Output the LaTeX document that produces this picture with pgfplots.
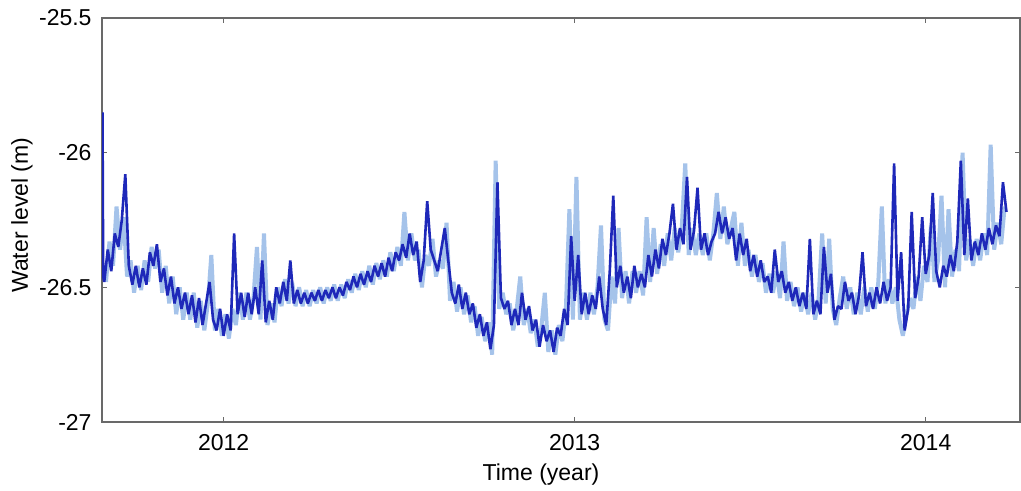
\documentclass[border=0pt]{standalone}
\usepackage{pgfplots}
\pgfplotsset{compat=1.18}
\usepackage{fontspec}
\setmainfont{Liberation Sans}
\definecolor{darkser}{RGB}{30,40,185}
\definecolor{lightser}{RGB}{165,195,234}
\definecolor{axgray}{RGB}{105,105,105}
\begin{document}
\fontsize{11.5}{13.5}\selectfont
\begin{tikzpicture}
\path[use as bounding box] (-51pt,-34.5pt) rectangle (459.5pt,211pt);
\begin{axis}[
  at={(0,0)}, anchor=south west,
  scale only axis, width=459pt, height=202pt,
  xmin=2011.6536, xmax=2014.2686,
  ymin=-27, ymax=-25.5,
  xtick={2012,2013,2014}, xticklabels={2012,2013,2014},
  ytick={-27,-26.5,-26,-25.5}, yticklabels={-27,-26.5,-26,-25.5},
  tick align=inside, major tick length=2.5pt,
  axis line style={axgray, line width=0.6pt},
  every tick/.style={axgray, line width=0.5pt},
  xticklabel style={yshift=-2pt},
  yticklabel style={xshift=-1.2pt},
  every axis x label/.style={at={(axis description cs:0.5,0)}, anchor=center, yshift=-26.5pt, xshift=-10pt},
  every axis y label/.style={at={(axis description cs:-0.0871,0.512)}, anchor=center, rotate=90},
  xlabel={Time (year)}, ylabel={Water level (m)},
  clip=true,
]
\addplot[lightser, line width=2.0pt, line join=bevel] table {
2011.665 -26.48
2011.675 -26.33
2011.685 -26.42
2011.695 -26.20
2011.705 -26.36
2011.715 -26.24
2011.725 -26.46
2011.735 -26.40
2011.745 -26.52
2011.755 -26.42
2011.765 -26.51
2011.775 -26.40
2011.785 -26.48
2011.795 -26.35
2011.805 -26.43
2011.815 -26.36
2011.825 -26.52
2011.835 -26.42
2011.845 -26.56
2011.855 -26.46
2011.865 -26.60
2011.875 -26.50
2011.885 -26.62
2011.895 -26.52
2011.905 -26.62
2011.915 -26.52
2011.925 -26.65
2011.935 -26.55
2011.945 -26.66
2011.955 -26.56
2011.965 -26.38
2011.975 -26.66
2011.985 -26.58
2011.995 -26.68
2012.005 -26.60
2012.015 -26.69
2012.025 -26.58
2012.035 -26.64
2012.045 -26.52
2012.055 -26.62
2012.065 -26.52
2012.075 -26.62
2012.085 -26.54
2012.095 -26.35
2012.105 -26.62
2012.115 -26.30
2012.125 -26.64
2012.135 -26.56
2012.145 -26.63
2012.155 -26.50
2012.165 -26.57
2012.175 -26.47
2012.185 -26.56
2012.195 -26.48
2012.205 -26.57
2012.215 -26.50
2012.225 -26.57
2012.235 -26.51
2012.245 -26.57
2012.255 -26.51
2012.265 -26.56
2012.275 -26.50
2012.285 -26.56
2012.295 -26.50
2012.305 -26.55
2012.315 -26.49
2012.325 -26.55
2012.335 -26.49
2012.345 -26.54
2012.355 -26.47
2012.365 -26.52
2012.375 -26.45
2012.385 -26.51
2012.395 -26.44
2012.405 -26.50
2012.415 -26.42
2012.425 -26.49
2012.435 -26.41
2012.445 -26.47
2012.455 -26.40
2012.465 -26.46
2012.475 -26.37
2012.485 -26.44
2012.495 -26.35
2012.505 -26.42
2012.515 -26.22
2012.525 -26.40
2012.535 -26.30
2012.545 -26.40
2012.555 -26.36
2012.565 -26.50
2012.575 -26.38
2012.585 -26.42
2012.595 -26.32
2012.605 -26.46
2012.615 -26.40
2012.625 -26.43
2012.635 -26.26
2012.645 -26.55
2012.655 -26.48
2012.665 -26.59
2012.675 -26.50
2012.685 -26.60
2012.695 -26.53
2012.705 -26.63
2012.715 -26.57
2012.725 -26.68
2012.735 -26.61
2012.745 -26.70
2012.755 -26.63
2012.765 -26.75
2012.775 -26.03
2012.785 -26.58
2012.795 -26.52
2012.805 -26.60
2012.815 -26.56
2012.825 -26.66
2012.835 -26.58
2012.845 -26.46
2012.855 -26.64
2012.865 -26.58
2012.875 -26.67
2012.885 -26.62
2012.895 -26.72
2012.905 -26.65
2012.915 -26.52
2012.925 -26.74
2012.935 -26.66
2012.945 -26.75
2012.955 -26.64
2012.965 -26.70
2012.975 -26.58
2012.985 -26.21
2012.995 -26.62
2013.005 -26.09
2013.015 -26.62
2013.025 -26.52
2013.035 -26.62
2013.045 -26.52
2013.055 -26.60
2013.065 -26.50
2013.075 -26.27
2013.085 -26.62
2013.095 -26.66
2013.105 -26.46
2013.115 -26.56
2013.125 -26.28
2013.135 -26.54
2013.145 -26.44
2013.155 -26.56
2013.165 -26.44
2013.175 -26.52
2013.185 -26.44
2013.195 -26.53
2013.205 -26.24
2013.215 -26.48
2013.225 -26.28
2013.235 -26.45
2013.245 -26.34
2013.255 -26.42
2013.265 -26.30
2013.275 -26.40
2013.285 -26.28
2013.295 -26.37
2013.305 -26.28
2013.315 -26.04
2013.325 -26.38
2013.335 -26.28
2013.345 -26.38
2013.355 -26.30
2013.365 -26.38
2013.375 -26.30
2013.385 -26.40
2013.395 -26.30
2013.405 -26.15
2013.415 -26.32
2013.425 -26.20
2013.435 -26.34
2013.445 -26.28
2013.455 -26.22
2013.465 -26.42
2013.475 -26.26
2013.485 -26.42
2013.495 -26.36
2013.505 -26.46
2013.515 -26.38
2013.525 -26.48
2013.535 -26.41
2013.545 -26.52
2013.555 -26.45
2013.565 -26.52
2013.575 -26.44
2013.585 -26.54
2013.595 -26.33
2013.605 -26.55
2013.615 -26.48
2013.625 -26.57
2013.635 -26.50
2013.645 -26.59
2013.655 -26.52
2013.665 -26.60
2013.675 -26.52
2013.685 -26.62
2013.695 -26.54
2013.705 -26.30
2013.715 -26.56
2013.725 -26.32
2013.735 -26.58
2013.745 -26.64
2013.755 -26.54
2013.765 -26.46
2013.775 -26.58
2013.785 -26.50
2013.795 -26.60
2013.805 -26.52
2013.815 -26.60
2013.825 -26.50
2013.835 -26.59
2013.845 -26.50
2013.855 -26.58
2013.865 -26.48
2013.875 -26.20
2013.885 -26.56
2013.895 -26.47
2013.905 -26.56
2013.915 -26.50
2013.925 -26.62
2013.935 -26.68
2013.945 -26.60
2013.955 -26.54
2013.965 -26.58
2013.975 -26.46
2013.985 -26.55
2013.995 -26.42
2014.005 -26.48
2014.015 -26.27
2014.025 -26.48
2014.035 -26.40
2014.045 -26.16
2014.055 -26.50
2014.065 -26.21
2014.075 -26.46
2014.085 -26.36
2014.095 -26.44
2014.105 -26.00
2014.115 -26.40
2014.125 -26.32
2014.135 -26.42
2014.145 -26.32
2014.155 -26.40
2014.165 -26.30
2014.175 -26.38
2014.185 -25.97
2014.195 -26.36
2014.205 -26.26
2014.215 -26.34
2014.225 -26.20
};
\addplot[darkser, line width=1.3pt, line join=bevel] table {
2011.654 -26.40
2011.655 -25.85
2011.657 -26.46
2011.66 -26.48
2011.67 -26.36
2011.68 -26.44
2011.69 -26.30
2011.70 -26.35
2011.71 -26.25
2011.72 -26.08
2011.73 -26.42
2011.74 -26.49
2011.75 -26.42
2011.76 -26.50
2011.77 -26.43
2011.78 -26.49
2011.79 -26.37
2011.80 -26.42
2011.81 -26.34
2011.82 -26.48
2011.83 -26.43
2011.84 -26.53
2011.85 -26.46
2011.86 -26.56
2011.87 -26.50
2011.88 -26.58
2011.89 -26.52
2011.90 -26.60
2011.91 -26.53
2011.92 -26.63
2011.93 -26.54
2011.94 -26.64
2011.95 -26.56
2011.96 -26.48
2011.97 -26.62
2011.98 -26.66
2011.99 -26.58
2012.00 -26.68
2012.01 -26.60
2012.02 -26.66
2012.03 -26.30
2012.04 -26.60
2012.05 -26.52
2012.06 -26.61
2012.07 -26.52
2012.08 -26.60
2012.09 -26.50
2012.10 -26.60
2012.11 -26.40
2012.12 -26.63
2012.13 -26.55
2012.14 -26.62
2012.15 -26.50
2012.16 -26.56
2012.17 -26.48
2012.18 -26.55
2012.19 -26.40
2012.20 -26.56
2012.21 -26.51
2012.22 -26.56
2012.23 -26.52
2012.24 -26.56
2012.25 -26.52
2012.26 -26.55
2012.27 -26.51
2012.28 -26.55
2012.29 -26.51
2012.30 -26.54
2012.31 -26.50
2012.32 -26.54
2012.33 -26.50
2012.34 -26.53
2012.35 -26.48
2012.36 -26.51
2012.37 -26.46
2012.38 -26.50
2012.39 -26.45
2012.40 -26.49
2012.41 -26.44
2012.42 -26.48
2012.43 -26.42
2012.44 -26.46
2012.45 -26.41
2012.46 -26.46
2012.47 -26.39
2012.48 -26.44
2012.49 -26.37
2012.50 -26.40
2012.51 -26.34
2012.52 -26.39
2012.53 -26.30
2012.54 -26.38
2012.55 -26.33
2012.56 -26.48
2012.57 -26.40
2012.58 -26.18
2012.59 -26.36
2012.60 -26.40
2012.61 -26.44
2012.62 -26.36
2012.63 -26.28
2012.64 -26.40
2012.65 -26.52
2012.66 -26.56
2012.67 -26.49
2012.68 -26.58
2012.69 -26.52
2012.70 -26.60
2012.71 -26.56
2012.72 -26.65
2012.73 -26.60
2012.74 -26.68
2012.75 -26.63
2012.76 -26.73
2012.77 -26.64
2012.78 -26.11
2012.79 -26.54
2012.80 -26.58
2012.81 -26.55
2012.82 -26.64
2012.83 -26.58
2012.84 -26.64
2012.85 -26.52
2012.86 -26.62
2012.87 -26.57
2012.88 -26.66
2012.89 -26.62
2012.90 -26.72
2012.91 -26.64
2012.92 -26.70
2012.93 -26.66
2012.94 -26.74
2012.95 -26.65
2012.96 -26.68
2012.97 -26.58
2012.98 -26.64
2012.99 -26.31
2013.00 -26.55
2013.01 -26.38
2013.02 -26.60
2013.03 -26.52
2013.04 -26.60
2013.05 -26.53
2013.06 -26.58
2013.07 -26.46
2013.08 -26.58
2013.09 -26.64
2013.10 -26.44
2013.11 -26.16
2013.12 -26.50
2013.13 -26.42
2013.14 -26.52
2013.15 -26.46
2013.16 -26.54
2013.17 -26.42
2013.18 -26.50
2013.19 -26.45
2013.20 -26.50
2013.21 -26.38
2013.22 -26.46
2013.23 -26.36
2013.24 -26.43
2013.25 -26.32
2013.26 -26.38
2013.27 -26.30
2013.28 -26.19
2013.29 -26.36
2013.30 -26.28
2013.31 -26.34
2013.32 -26.09
2013.33 -26.36
2013.34 -26.29
2013.35 -26.13
2013.36 -26.36
2013.37 -26.30
2013.38 -26.38
2013.39 -26.33
2013.40 -26.30
2013.41 -26.22
2013.42 -26.30
2013.43 -26.24
2013.44 -26.32
2013.45 -26.28
2013.46 -26.40
2013.47 -26.30
2013.48 -26.38
2013.49 -26.32
2013.50 -26.44
2013.51 -26.38
2013.52 -26.46
2013.53 -26.40
2013.54 -26.48
2013.55 -26.46
2013.56 -26.52
2013.57 -26.36
2013.58 -26.48
2013.59 -26.44
2013.60 -26.52
2013.61 -26.48
2013.62 -26.55
2013.63 -26.50
2013.64 -26.57
2013.65 -26.52
2013.66 -26.58
2013.67 -26.32
2013.68 -26.60
2013.69 -26.55
2013.70 -26.60
2013.71 -26.35
2013.72 -26.52
2013.73 -26.45
2013.74 -26.62
2013.75 -26.57
2013.76 -26.58
2013.77 -26.48
2013.78 -26.55
2013.79 -26.52
2013.80 -26.60
2013.81 -26.53
2013.82 -26.37
2013.83 -26.57
2013.84 -26.52
2013.85 -26.58
2013.86 -26.50
2013.87 -26.56
2013.88 -26.48
2013.89 -26.55
2013.90 -26.50
2013.91 -26.04
2013.92 -26.55
2013.93 -26.37
2013.94 -26.66
2013.95 -26.58
2013.96 -26.22
2013.97 -26.54
2013.98 -26.46
2013.99 -26.24
2014.00 -26.45
2014.01 -26.38
2014.02 -26.15
2014.03 -26.44
2014.04 -26.50
2014.05 -26.42
2014.06 -26.46
2014.07 -26.38
2014.08 -26.44
2014.09 -26.33
2014.10 -26.03
2014.11 -26.38
2014.12 -26.17
2014.13 -26.40
2014.14 -26.33
2014.15 -26.38
2014.16 -26.30
2014.17 -26.36
2014.18 -26.28
2014.19 -26.34
2014.20 -26.27
2014.21 -26.31
2014.22 -26.11
2014.23 -26.22
};
\end{axis}
\end{tikzpicture}
\end{document}
